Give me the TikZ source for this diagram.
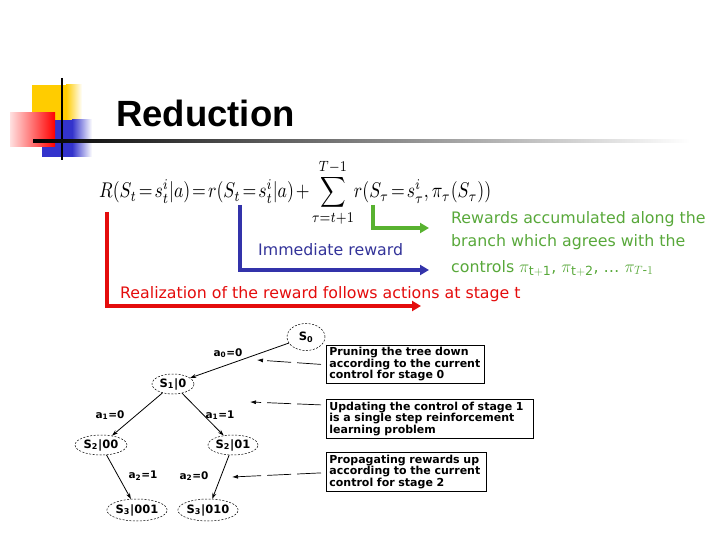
\documentclass[tikz,border=0pt]{standalone}
\usepackage{amsmath}
\usepackage{fontspec}
\usepackage{graphicx}
\setmainfont{DejaVu Sans}
\newfontfamily\titlefont{Liberation Sans}
\usetikzlibrary{arrows.meta,shapes.geometric}
\definecolor{redc}{RGB}{228,12,12}
\definecolor{bluec}{RGB}{51,51,170}
\definecolor{bluet}{RGB}{51,51,153}
\definecolor{greenc}{RGB}{88,178,48}
\definecolor{greent}{RGB}{88,168,58}
\definecolor{decoyellow}{RGB}{255,204,0}
\definecolor{decoblue}{RGB}{51,51,204}
\begin{document}
\begin{tikzpicture}[x=1pt,y=-1pt,
  bigline/.style={line width=3.5pt,-{Triangle[length=9pt,width=10pt]}},
  ctext/.style={anchor=base west,inner sep=0pt,font=\fontsize{15.8}{18}\selectfont},
  st/.style={ellipse,draw,dash pattern=on 2pt off 1.5pt,line width=0.5pt,inner sep=0pt,
     font=\bfseries\fontsize{11.5}{13}\selectfont},
  lab/.style={inner sep=0pt,font=\bfseries\fontsize{10.5}{12}\selectfont},
  edge/.style={line width=0.8pt,-{Stealth[length=6pt,width=4pt]}},
  note/.style={draw,line width=0.8pt,anchor=north west,align=left,inner xsep=3pt,inner ysep=1pt,
     font=\bfseries\fontsize{11}{11.5}\selectfont},
  notearr/.style={line width=0.7pt,dash pattern=on 24pt off 6pt,-{Latex[length=6pt,width=4pt]}}]
\useasboundingbox (0,0) rectangle (720,540);
% decoration
\fill[decoyellow] (32,85) rectangle (66,130);
\shade[left color=decoyellow,right color=white] (66,85) rectangle (82,130);
\fill[decoblue] (42,120) rectangle (72,157);
\shade[left color=decoblue,right color=white] (72,120) rectangle (92,157);
\shade[left color=red!12,right color=red] (10,113) rectangle (55,147);
\draw[line width=2.2pt,black] (62,78) -- (62,160);
\shade[left color=black,right color=white] (33,140) rectangle (690,142.3);
% title
\node[anchor=base west,inner sep=0pt,font=\titlefont\bfseries\fontsize{36.5}{40}\selectfont] (title) at (116,127) {Reduction};
% formula
\node[anchor=base west,inner sep=0pt] (eq) at (99,198) {\scalebox{1}[1.2]{\resizebox{392pt}{!}{$\thickmuskip=2mu\medmuskip=2mu\displaystyle R(S_t=s_t^i|a)=r(S_t=s_t^i|a)+\sum_{\tau=t+1}^{T-1}\! r(S_\tau=s_\tau^i,\pi_\tau(S_\tau))$}}};
% colored connectors
\coordinate (r0) at (107,212); \coordinate (r2) at (421,306);
\coordinate (b0) at (240,205); \coordinate (b2) at (429,270);
\coordinate (g0) at (373,205); \coordinate (g2) at (429,228);
\draw[bigline,redc] (r0) |- (r2);
\draw[bigline,bluec] (b0) |- (b2);
\draw[bigline,greenc] (g0) |- (g2);
% texts
\node[ctext,text=bluet] (imm) at (258,255) {Immediate reward};
\node[ctext,text=greent] (g1) at (451,224) {Rewards accumulated along the};
\node[ctext,text=greent] (g2t) at (451,247) {branch which agrees with the};
\node[ctext,text=greent] (g3) at (451,272) {controls {\fontsize{18}{20}\selectfont$\pi_{\mathrm{t+1}}$}, {\fontsize{18}{20}\selectfont$\pi_{\mathrm{t+2}}$}, \dots\ {\fontsize{18}{20}\selectfont$\pi_{T\textrm{-}1}$}};
\node[ctext,text=redc] (real) at (120,298) {Realization of the reward follows actions at stage t};
% tree
\node[st,minimum width=38pt,minimum height=27pt] (s0) at (306,337) {S\textsubscript{0}};
\node[st,minimum width=42pt,minimum height=20pt] (s1) at (173,384) {S\textsubscript{1}|0};
\node[st,minimum width=52pt,minimum height=20pt] (s2a) at (101,445) {S\textsubscript{2}|00};
\node[st,minimum width=50pt,minimum height=20pt] (s2b) at (233,445) {S\textsubscript{2}|01};
\node[st,minimum width=60pt,minimum height=22pt] (s3a) at (137,510) {S\textsubscript{3}|001};
\node[st,minimum width=60pt,minimum height=22pt] (s3b) at (208,510) {S\textsubscript{3}|010};
\draw[edge] (s0) -- (s1);
\draw[edge] (s1) -- (s2a);
\draw[edge] (s1) -- (s2b);
\draw[edge] (s2a) -- (s3a);
\draw[edge] (s2b) -- (s3b);
\node[lab] (l0) at (228,353) {a\textsubscript{0}=0};
\node[lab] (l1) at (110,415) {a\textsubscript{1}=0};
\node[lab] (l2) at (220,415) {a\textsubscript{1}=1};
\node[lab] (l3) at (143,476) {a\textsubscript{2}=1};
\node[lab] (l4) at (194,476) {a\textsubscript{2}=0};
% notes
\node[note,minimum width=158pt,minimum height=38pt,text width=152pt] (prune) at (326,345)
  {Pruning the tree down\\according to the current\\control for stage 0};
\node[note,minimum width=207pt,minimum height=39pt,text width=201pt] (upd) at (326,399)
  {Updating the control of stage 1\\is a single step reinforcement\\learning problem};
\node[note,minimum width=160pt,minimum height=39pt,text width=154pt] (prop) at (326,452)
  {Propagating rewards up\\according to the current\\control for stage 2};
\coordinate (pa) at (257,360);
\coordinate (ua) at (250,402);
\coordinate (qa) at (232,477);
\draw[notearr] ([xshift=-5pt]prune.west) -- (pa);
\draw[notearr] ([xshift=-5pt,yshift=14pt]upd.west) -- (ua);
\draw[notearr] ([xshift=-5pt,yshift=-1pt]prop.west) -- (qa);
\end{tikzpicture}
\end{document}
